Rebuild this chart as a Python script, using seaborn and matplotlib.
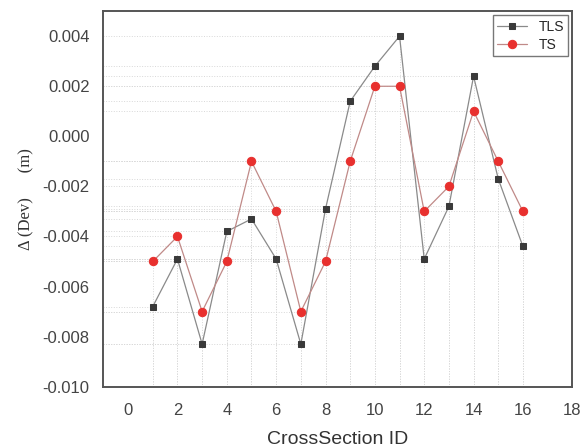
import numpy as np
import pandas as pd
import matplotlib.pyplot as plt
import seaborn as sns

# data
section_id = [1, 2, 3, 4, 5, 6, 7, 8, 9, 10, 11, 12, 13, 14, 15, 16]
tls = [-0.0068, -0.0049, -0.0083, -0.0038, -0.0033, -0.0049, -0.0083, -0.0029,
       0.0014, 0.0028, 0.0040, -0.0049, -0.0028, 0.0024, -0.0017, -0.0044]
ts = [-0.005, -0.004, -0.007, -0.005, -0.001, -0.003, -0.007, -0.005,
      -0.001, 0.002, 0.002, -0.003, -0.002, 0.001, -0.001, -0.003]

df = pd.DataFrame({'id': section_id, 'TLS': tls, 'TS': ts})

sns.set_style('white')
plt.rcParams['font.family'] = ['Liberation Sans', 'DejaVu Sans']

fig, ax = plt.subplots(figsize=(5.81, 4.47), dpi=100)
fig.subplots_adjust(left=0.178, right=0.985, bottom=0.135, top=0.975)

xmin, ymin = -1, -0.010

# drop lines to the axes
for col in ['TLS', 'TS']:
    for x, y in zip(df['id'], df[col]):
        ax.plot([x, x], [ymin, y], color='#d8d8d8', lw=0.7, ls=':', zorder=1)
        ax.plot([xmin, x], [y, y], color='#d8d8d8', lw=0.7, ls=':', zorder=1)

sns.lineplot(data=df, x='id', y='TLS', ax=ax, color='#8a8a8a', lw=0.9,
             marker='s', markersize=5, markerfacecolor='#3a3a3a',
             markeredgecolor='#3a3a3a', label='TLS', zorder=3)
sns.lineplot(data=df, x='id', y='TS', ax=ax, color='#c08a88', lw=0.9,
             marker='o', markersize=6, markerfacecolor='#e8302e',
             markeredgecolor='#e8302e', label='TS', zorder=4)

ax.set_xlim(xmin, 18)
ax.set_ylim(ymin, 0.005)
ax.set_xticks(range(0, 19, 2))
ax.set_yticks(np.arange(-0.010, 0.0041, 0.002))
ax.set_yticklabels([f'{v:.3f}' for v in np.arange(-0.010, 0.0041, 0.002)])
ax.tick_params(length=0, labelsize=12, labelcolor='#444444')
ax.tick_params(axis='x', pad=12)
ax.tick_params(axis='y', pad=10)

for s in ax.spines.values():
    s.set_color('#555555')
    s.set_linewidth(1.4)

ax.set_xlabel('CrossSection ID', fontsize=14, color='#333333', labelpad=9)
ax.set_ylabel('Δ (Dev)      (m)', fontsize=12, color='#333333',
              family=['Liberation Serif', 'DejaVu Serif'], labelpad=6)

leg = ax.legend(loc='upper right', fontsize=10, frameon=True, fancybox=False,
                edgecolor='#555555', handlelength=2.2, borderpad=0.3,
                labelspacing=0.3, borderaxespad=0.3)
leg.get_frame().set_linewidth(1.0)

fig.savefig('out.png', dpi=100)
